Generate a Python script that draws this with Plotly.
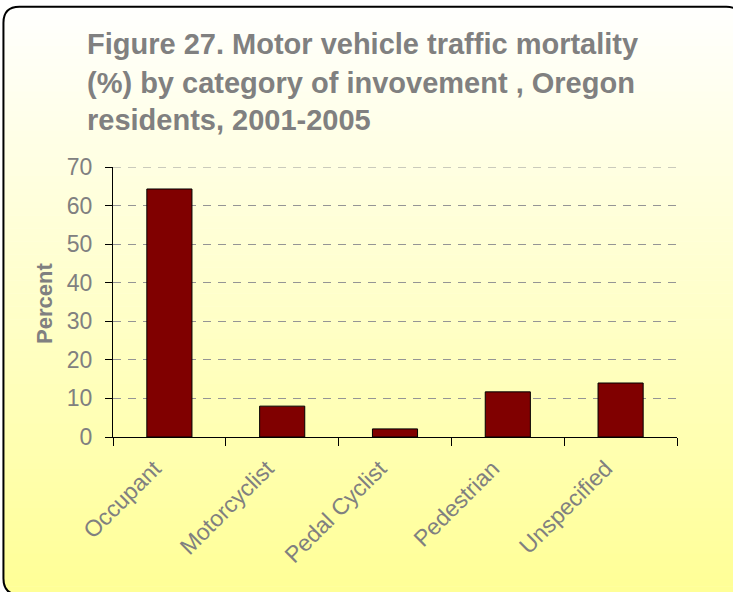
import plotly.graph_objects as go

categories = ["Occupant", "Motorcyclist", "Pedal Cyclist", "Pedestrian", "Unspecified"]
percent = [64.3, 8.0, 2.1, 11.7, 14.0]
y_ticks = [0, 10, 20, 30, 40, 50, 60, 70]
title_lines = [
    "Figure 27. Motor vehicle traffic mortality",
    "(%) by category of invovement , Oregon",
    "residents, 2001-2005",
]

W_FIG, H_FIG = 733, 592
L, R, T, B = 113, 676.7, 167.3, 436.7
PW, PH = R - L, B - T


def px(x):
    return (x - L) / PW


def py(y):
    return (B - y) / PH


FONT = "Arial, Liberation Sans, sans-serif"
GRAY = "#808080"
GRID = "#959595"

fig = go.Figure(
    go.Bar(
        x=categories,
        y=percent,
        marker=dict(color="#800000", line=dict(color="#000000", width=1)),
    )
)

shapes = []
# gradient background strips
N = 90
top, bot = 7.5, 592
for i in range(N):
    y_a = top + (bot - top) * i / N
    y_b = top + (bot - top) * (i + 1) / N + 0.6
    t = (i + 0.5) / N
    b = int(round(254 - (254 - 150) * t))
    shapes.append(dict(
        type="rect", xref="paper", yref="paper", layer="below",
        x0=px(3.5), x1=px(740), y0=py(y_a), y1=py(min(y_b, 600)),
        fillcolor=f"rgb(255,255,{b})", line=dict(width=0),
    ))

# white mask for bottom-left rounded corner
r = 16
x0f, y0f, x1f, y1f = 3.5, 7.5, 742, 594
shapes.append(dict(
    type="path", xref="paper", yref="paper", layer="below",
    path=(f"M {px(x0f-2)},{py(y1f-r)} L {px(x0f)},{py(y1f-r)} "
          f"Q {px(x0f)},{py(y1f)} {px(x0f+r)},{py(y1f)} "
          f"L {px(x0f+r)},{py(y1f+4)} L {px(x0f-2)},{py(y1f+4)} Z"),
    fillcolor="white", line=dict(width=0),
))

# rounded frame
frame = (
    f"M {px(x0f+r)},{py(y0f)} L {px(x1f-r)},{py(y0f)} "
    f"Q {px(x1f)},{py(y0f)} {px(x1f)},{py(y0f+r)} "
    f"L {px(x1f)},{py(y1f-r)} "
    f"Q {px(x1f)},{py(y1f)} {px(x1f-r)},{py(y1f)} "
    f"L {px(x0f+r)},{py(y1f)} "
    f"Q {px(x0f)},{py(y1f)} {px(x0f)},{py(y1f-r)} "
    f"L {px(x0f)},{py(y0f+r)} "
    f"Q {px(x0f)},{py(y0f)} {px(x0f+r)},{py(y0f)} Z"
)
shapes.append(dict(
    type="path", xref="paper", yref="paper", layer="below",
    path=frame, line=dict(color="#000000", width=2), fillcolor="rgba(0,0,0,0)",
))

# top gridline (at the range edge)
shapes.append(dict(
    type="line", xref="paper", yref="y", layer="below",
    x0=0, x1=1, y0=y_ticks[-1], y1=y_ticks[-1],
    line=dict(color=GRID, width=1, dash="8px,7px"),
))

annotations = []
title_y = [45, 83, 120]
for line, yc in zip(title_lines, title_y):
    annotations.append(dict(
        text=f"<b>{line}</b>", xref="paper", yref="paper",
        x=px(85), y=py(yc), xanchor="left", yanchor="middle",
        showarrow=False, font=dict(family=FONT, size=29, color=GRAY),
    ))
annotations.append(dict(
    text="<b>Percent</b>", xref="paper", yref="paper",
    x=px(44), y=py(303), xanchor="center", yanchor="middle", textangle=-90,
    showarrow=False, font=dict(family=FONT, size=22, color=GRAY),
))

fig.update_layout(
    width=W_FIG, height=H_FIG,
    margin=dict(l=L, r=W_FIG - R, t=T, b=H_FIG - B, pad=0),
    paper_bgcolor="white",
    plot_bgcolor="rgba(0,0,0,0)",
    bargap=0.6,
    showlegend=False,
    shapes=shapes,
    annotations=annotations,
    xaxis=dict(
        tickson="boundaries", ticks="outside", ticklen=8, tickcolor="#000000",
        showline=True, linecolor="#000000", linewidth=1,
        showgrid=False, tickangle=-45,
        ticklabelshift=-15, ticklabelstandoff=8,
        tickfont=dict(family=FONT, size=23, color=GRAY),
    ),
    yaxis=dict(
        range=[0, 70], tickvals=y_ticks, ticks="outside", ticklen=7,
        tickcolor="#000000", showline=True, linecolor="#000000", linewidth=1,
        showgrid=True, gridcolor=GRID, griddash="8px,7px", gridwidth=1,
        zeroline=False, ticklabelstandoff=8,
        tickfont=dict(family=FONT, size=23, color=GRAY),
    ),
)

fig.write_html(
    "out.html",
    config={"displayModeBar": False},
    post_script="document.body.style.margin='0px';document.body.style.padding='0px';",
)
